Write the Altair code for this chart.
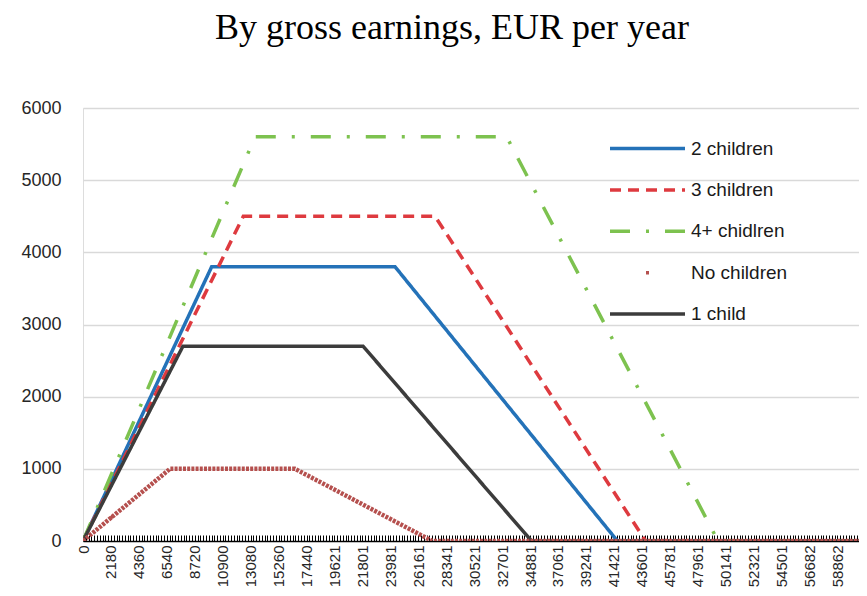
import json
import altair as alt
import pandas as pd

# ---- data ----
series = ["2 children", "3 children", "4+ chidlren", "No children", "1 child"]

income_2 = [0, 10040, 24350, 41700, 61042]
benefit_2 = [0, 3800, 3800, 0, 0]
income_3 = [0, 12510, 27470, 43900, 61042]
benefit_3 = [0, 4500, 4500, 0, 0]
income_4 = [0, 13420, 33060, 49550, 61042]
benefit_4 = [0, 5600, 5600, 0, 0]
income_0 = [0, 6790, 16540, 27250, 61042]
benefit_0 = [0, 1000, 1000, 0, 0]
income_1 = [0, 7800, 21850, 35000, 61042]
benefit_1 = [0, 2700, 2700, 0, 0]

x_labels = [0, 2180, 4360, 6540, 8720, 10900, 13080, 15260, 17440, 19621,
            21801, 23981, 26161, 28341, 30521, 32701, 34881, 37061, 39241,
            41421, 43601, 45781, 47961, 50141, 52321, 54501, 56682, 58862, 61042]
y_ticks = [0, 1000, 2000, 3000, 4000, 5000, 6000]

colors = ["#2472B8", "#DE3A3F", "#7DC24F", "#B5504E", "#3C3C3C"]
# legend / main-layer dash patterns ("No children" shows a single marker in the legend)
dashes = [[1, 0], [11, 7], [20, 16, 3, 16], [0, 36, 3, 100000], [1, 0]]
no_child_dash = [3, 1.2]

# ---- table ----
rows = []
for name, xs, ys in [
    (series[0], income_2, benefit_2),
    (series[1], income_3, benefit_3),
    (series[2], income_4, benefit_4),
    (series[3], income_0, benefit_0),
    (series[4], income_1, benefit_1),
]:
    for i, (xv, yv) in enumerate(zip(xs, ys)):
        rows.append({"series": name, "income": xv, "benefit": yv, "ord": i})
df = pd.DataFrame(rows)

# category tick marks (10 per labelled step) on the x axis
x_ticks = []
for a, b in zip(x_labels[:-1], x_labels[1:]):
    for k in range(10):
        x_ticks.append(a + (b - a) * k / 10)
x_ticks.append(x_labels[-1])

label_expr = "indexof(%s, datum.value) >= 0 ? datum.label : ''" % json.dumps(x_labels)

legend = alt.Legend(
    title=None,
    orient="none",
    legendX=580,
    legendY=28.5,
    padding=0,
    symbolType="M-6.5,0H1",
    symbolSize=400,
    symbolStrokeWidth=3.5,
    labelFont="Liberation Sans",
    labelFontSize=19,
    labelColor="#1a1a1a",
    labelOffset=4,
    rowPadding=19.4,
)

x_enc = alt.X(
    "income:Q",
    scale=alt.Scale(domain=[0, 60550], nice=False, zero=False),
    axis=alt.Axis(
        title=None,
        values=x_ticks,
        tickCount=2000,
        format="d",
        labelExpr=label_expr,
        labelAngle=-90,
        labelFont="Liberation Sans",
        labelFontSize=15,
        labelColor="#262626",
        labelPadding=4,
        labelOverlap=False,
        labelFlush=False,
        labelBound=False,
        domain=False,
        grid=False,
        ticks=True,
        tickColor="#000000",
        tickWidth=1,
        tickSize=6,
        offset=-6,
    ),
)
y_enc = alt.Y(
    "benefit:Q",
    scale=alt.Scale(domain=[0, 6000], nice=False),
    axis=alt.Axis(
        title=None,
        values=y_ticks,
        format="d",
        domain=False,
        ticks=False,
        labelFont="Liberation Sans",
        labelFontSize=18,
        labelColor="#262626",
        labelPadding=22,
        grid=True,
        gridColor={"condition": {"test": "datum.value === 0", "value": "#000000"}, "value": "#D9D9D9"},
        gridWidth=1.5,
    ),
)

base = alt.Chart(df)

lines = base.mark_line(strokeWidth=3.5, clip=True).encode(
    x=x_enc,
    y=y_enc,
    color=alt.Color("series:N", scale=alt.Scale(domain=series, range=colors), legend=legend),
    strokeDash=alt.StrokeDash("series:N", scale=alt.Scale(domain=series, range=dashes), legend=legend),
    order="ord:Q",
)

no_children = base.transform_filter(
    alt.datum.series == "No children"
).mark_line(strokeWidth=4.5, clip=True, color=colors[3], strokeDash=no_child_dash).encode(
    x="income:Q",
    y="benefit:Q",
    order="ord:Q",
)

chart = (
    alt.layer(lines, no_children)
    .properties(
        width=776,
        height=433,
        autosize=alt.AutoSizeParams(type="none"),
        padding={"left": 75, "top": 100, "right": 0, "bottom": 47},
        title=alt.TitleParams(
            "By gross earnings, EUR per year",
            font="Liberation Serif",
            fontSize=36,
            fontWeight="normal",
            color="#000000",
            anchor="middle",
            dx=-19,
            offset=52,
        ),
    )
    .configure_view(stroke=None)
    .configure(background="white")
)

chart.save("out.html", embed_options={"renderer": "svg", "actions": False})
